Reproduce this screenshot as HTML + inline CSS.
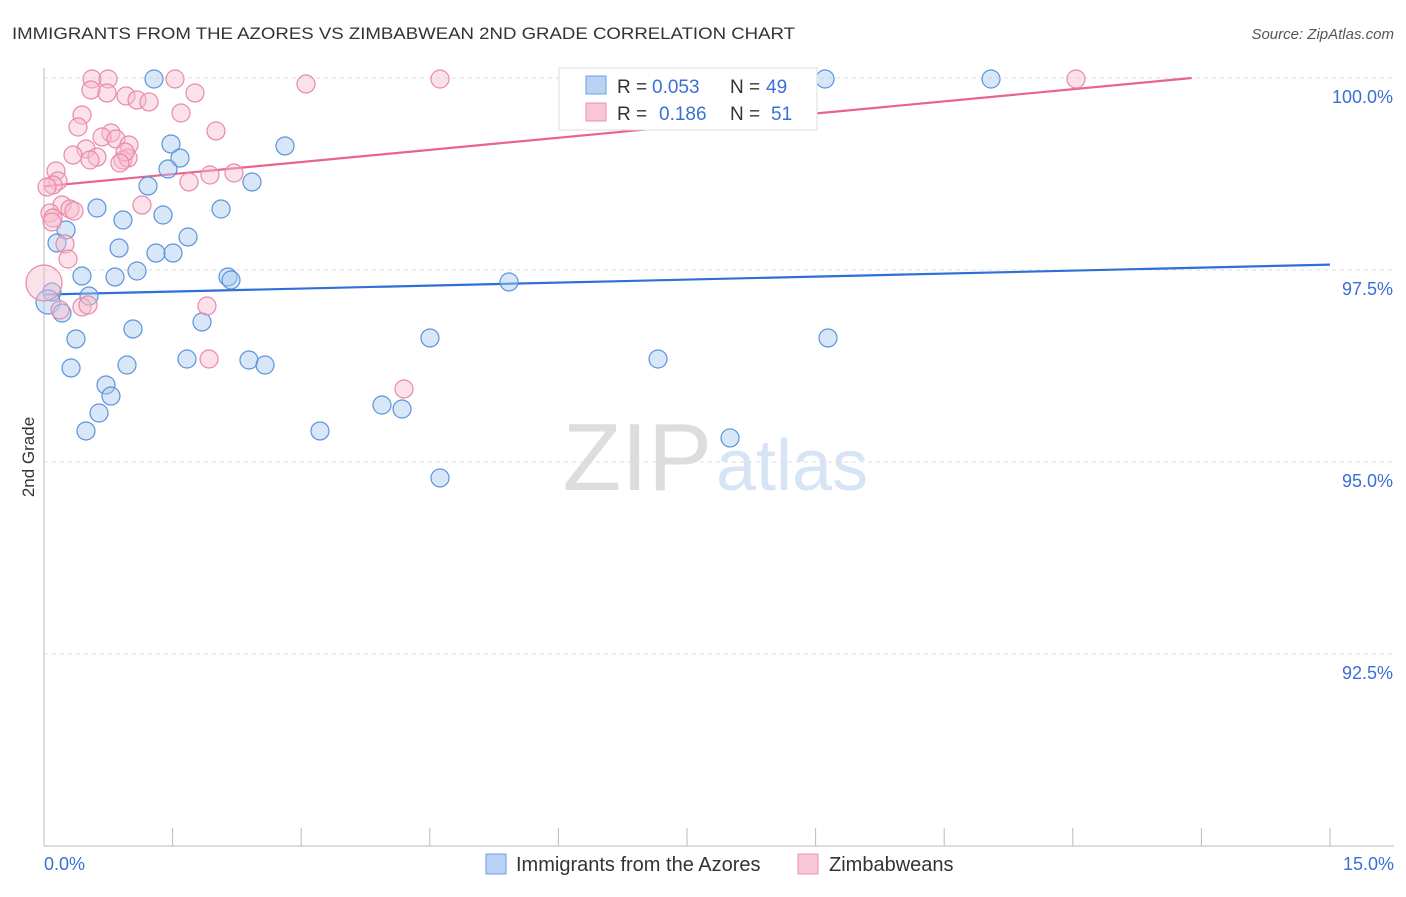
<!DOCTYPE html>
<html><head><meta charset="utf-8"><style>
body{margin:0;background:#fff;font-family:"Liberation Sans",sans-serif}
svg text{font-family:"Liberation Sans",sans-serif}
</style></head><body>
<svg width="1406" height="892" id="chart">
<text x="12" y="39" font-size="17" fill="#333" textLength="783" lengthAdjust="spacingAndGlyphs">IMMIGRANTS FROM THE AZORES VS ZIMBABWEAN 2ND GRADE CORRELATION CHART</text>
<text x="1394" y="39" font-size="15" fill="#555" text-anchor="end" font-style="italic">Source: ZipAtlas.com</text>
<text x="0" y="0" transform="translate(34,457) rotate(-90)" font-size="17" fill="#333" text-anchor="middle">2nd Grade</text>
<text x="712" y="490" font-size="96" fill="#ddd" text-anchor="end" font-family="Liberation Serif">ZIP</text>
<text x="716" y="490" font-size="72" fill="#d6e4f5">atlas</text>
<g id="grid"></g><g id="axes"></g><g id="trend"></g><g id="pts"></g>
<g>
<rect x="559" y="68" width="258" height="62" fill="#fff" stroke="#ddd"/>
<rect x="586" y="76" width="20" height="18" fill="#b9d3f3" stroke="#6a9fe0"/>
<text x="617" y="93" font-size="19" fill="#333">R =</text>
<text x="652" y="93" font-size="19" fill="#3a6fd8">0.053</text>
<text x="730" y="93" font-size="19" fill="#333">N =</text>
<text x="766" y="93" font-size="19" fill="#3a6fd8">49</text>
<rect x="586" y="103" width="20" height="18" fill="#f9c6d6" stroke="#ea8fae"/>
<text x="617" y="120" font-size="19" fill="#333">R =</text>
<text x="659" y="120" font-size="19" fill="#3a6fd8">0.186</text>
<text x="730" y="120" font-size="19" fill="#333">N =</text>
<text x="771" y="120" font-size="19" fill="#3a6fd8">51</text>
</g>
<g>
<rect x="486" y="854" width="20" height="20" fill="#b9d3f3" stroke="#6a9fe0"/>
<text x="516" y="871" font-size="20" fill="#333">Immigrants from the Azores</text>
<rect x="798" y="854" width="20" height="20" fill="#f9c6d6" stroke="#ea8fae"/>
<text x="829" y="871" font-size="20" fill="#333">Zimbabweans</text>
</g>
</svg>
<script>
const blueXpx=[154,825,991,285,171,180,168,148,252,97,221,163,123,66,188,57,119,156,173,137,82,115,228,231,509,52,89,48,62,202,133,76,430,828,187,249,658,71,127,265,106,111,382,402,99,320,86,730,440];
const blueYpx=[79,79,79,146,144,158,169,186,182,208,209,215,220,230,237,243,248,253,253,271,276,277,277,280,282,292,296,302,313,322,329,339,338,338,359,360,359,368,365,365,385,396,405,409,413,431,431,438,478];
const pinkXpx=[92,108,175,440,1076,306,91,107,195,126,137,149,82,181,78,216,111,102,116,129,86,73,97,123,128,189,210,234,56,58,53,142,62,70,74,50,53,65,68,44,82,88,207,209,404,52,60,125,90,120,47];
const pinkYpx=[79,79,79,79,79,84,90,93,93,96,100,102,115,113,127,131,133,137,139,145,149,155,157,160,158,182,175,173,171,181,185,205,205,209,211,213,218,244,259,283,307,305,306,359,389,222,310,152,160,163,187];
// data values (x in %, y in %)
const blueX=blueXpx.map(p=>+((p-44)/1286*15).toFixed(3));
const blueY=blueYpx.map(p=>+(100-(p-78)/192*2.5).toFixed(3));
const pinkX=pinkXpx.map(p=>+((p-44)/1286*15).toFixed(3));
const pinkY=pinkYpx.map(p=>+(100-(p-78)/192*2.5).toFixed(3));
const blueTrend=[97.18,97.57];
const pinkTrend=[98.59,100.17];
const yTicks=[100,97.5,95,92.5];
const yTickLabels=["100.0%","97.5%","95.0%","92.5%"];
const xTicks=[0,1.5,3,4.5,6,7.5,9,10.5,12,13.5,15];
const NS="http://www.w3.org/2000/svg";
const xs=v=>44+v/15*1286, ys=v=>78+(100-v)/2.5*192;
function mk(tag,attrs,parent){const e=document.createElementNS(NS,tag);for(const k in attrs)e.setAttribute(k,attrs[k]);document.getElementById(parent).appendChild(e);return e;}
yTicks.forEach((t,i)=>{
 const l=mk('line',{x1:44,x2:1394,y1:ys(t),y2:ys(t),stroke:'#ddd','stroke-dasharray':'4,4'},'grid');
 
 
 const tx=mk('text',{x:1393,y:ys(t)+25,'font-size':18,fill:'#3a6fd8','text-anchor':'end'},'grid');
 tx.textContent=yTickLabels[i];
 
 
});
const ya=mk('line',{x1:44,x2:44,y1:68,y2:846,stroke:'#bbb'},'axes');


const xa=mk('line',{x1:44,x2:1394,y1:846,y2:846,stroke:'#bbb'},'axes');


xTicks.forEach(t=>{
 const l=mk('line',{x1:xs(t),x2:xs(t),y1:828,y2:846,stroke:'#bbb'},'axes');
 
 
});
const xl0=mk('text',{x:44,y:870,'font-size':18,fill:'#3a6fd8'},'axes');xl0.textContent='0.0%';


const xl1=mk('text',{x:1394,y:870,'font-size':18,fill:'#3a6fd8','text-anchor':'end'},'axes');xl1.textContent='15.0%';


function pts(X,Y,fill,stroke,name){X.forEach((x,i)=>{
 const big=(name==='pink-point'&&i===39)?18:(name==='blue-point'&&i===27?12:9);
 const c=mk('circle',{cx:xs(x),cy:ys(Y[i]),r:big,fill:fill,'fill-opacity':0.45,stroke:stroke,'stroke-width':1.2},'pts');
 
 
});}
pts(blueX,blueY,'#a9c9f0','#5b93dc','blue-point');
pts(pinkX,pinkY,'#f7bccf','#e989a8','pink-point');
const bt=mk('line',{x1:xs(0),y1:ys(blueTrend[0]),x2:xs(15),y2:ys(blueTrend[1]),stroke:'#2f6fd6','stroke-width':2.2},'trend');


let xe=15,ye=pinkTrend[1];
if(ye>100){xe=15*(100-pinkTrend[0])/(pinkTrend[1]-pinkTrend[0]);ye=100;}
const pt=mk('line',{x1:xs(0),y1:ys(pinkTrend[0]),x2:xs(xe),y2:ys(ye),stroke:'#e8638f','stroke-width':2.2},'trend');


</script>
</body></html>
